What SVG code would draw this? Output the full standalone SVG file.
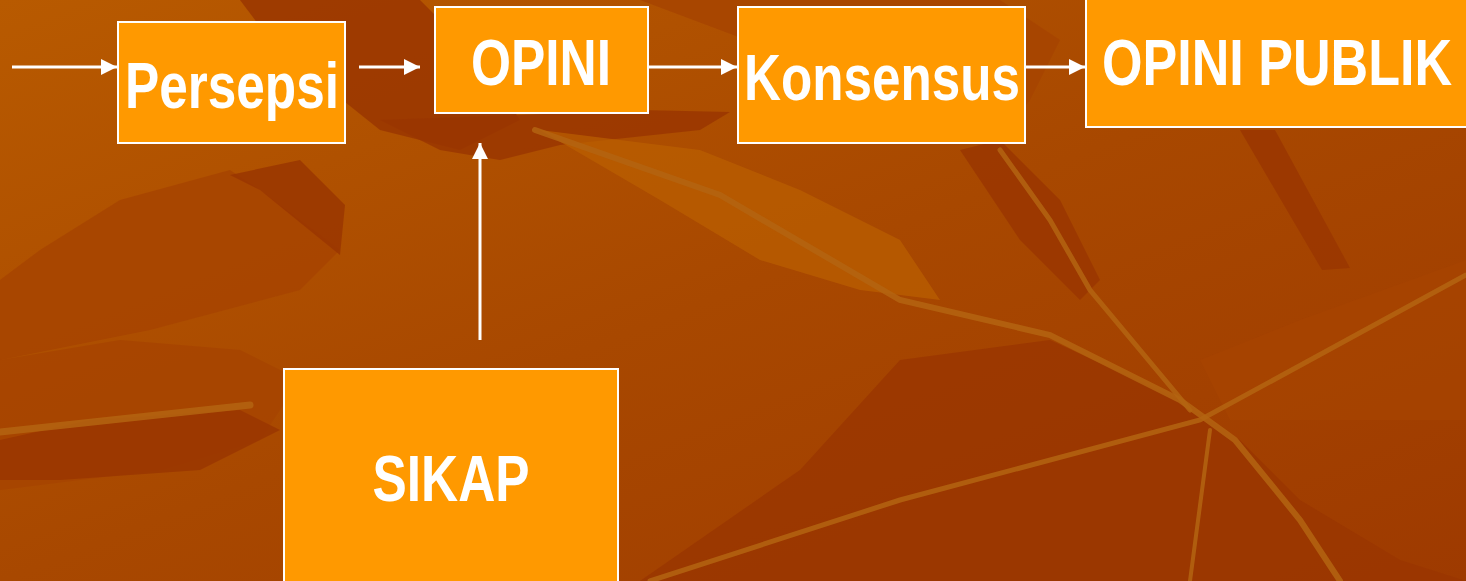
<svg xmlns="http://www.w3.org/2000/svg" width="1466" height="581" viewBox="0 0 1466 581">
  <defs>
    <linearGradient id="bg" x1="0" y1="0" x2="1" y2="1">
      <stop offset="0" stop-color="#B85A00"/>
      <stop offset="0.5" stop-color="#A84800"/>
      <stop offset="1" stop-color="#9E3A00"/>
    </linearGradient>
    <marker id="ah" viewBox="0 0 16 16" refX="16" refY="8" markerWidth="16" markerHeight="16" markerUnits="userSpaceOnUse" orient="auto">
      <path d="M0,0 L16,8 L0,16 Z" fill="#FFFFFF"/>
    </marker>
    <style>
      .box { fill: #FF9900; stroke: #FFFFFF; stroke-width: 2; }
      .lbl { font-family: "Liberation Sans Narrow", "Arial Narrow", "Liberation Sans", Arial, sans-serif; font-weight: bold; font-size: 64px; fill: #FFFFFF; text-anchor: middle; }
      .con { stroke: #FFFFFF; stroke-width: 3; fill: none; marker-end: url(#ah); }
      .dark { fill: #9A3600; opacity: 0.85; }
      .mid { fill: #A64400; opacity: 0.8; }
      .light { fill: #BA6000; opacity: 0.7; }
      .stem { fill: none; stroke: #B46410; stroke-linecap: round; opacity: 0.85; }
    </style>
  </defs>

  <g id="background">
    <rect x="0" y="0" width="1466" height="581" fill="url(#bg)"/>
    <polygon class="mid" points="0,280 40,250 120,200 230,170 260,190 340,250 300,290 150,330 0,360"/>
    <polygon class="dark" points="240,0 420,0 480,60 520,120 460,150 380,130 330,90 270,40"/>
    <polygon class="dark" points="380,120 520,115 640,110 730,112 700,130 560,145 500,160 440,150"/>
    <polygon class="dark" points="230,175 300,160 345,205 340,255 260,190"/>
    <polygon class="mid" points="0,360 120,340 240,350 300,380 260,440 160,470 0,490"/>
    <polygon class="dark" points="0,440 90,420 240,410 280,430 200,470 60,480 0,480"/>
    <polygon class="light" points="540,130 700,150 800,190 900,240 940,300 860,290 760,260 660,200"/>
    <polygon class="mid" points="640,0 1000,0 1060,40 1030,100 990,150 900,110 800,60"/>
    <polygon class="dark" points="1240,130 1275,130 1350,268 1322,270"/>
    <polygon class="dark" points="960,150 1000,140 1060,200 1100,280 1080,300 1020,240"/>
    <polygon class="dark" points="900,360 1050,340 1180,400 1240,440 1300,500 1400,560 1466,581 640,581 800,470"/>
    <polygon class="mid" points="1200,360 1300,320 1466,260 1466,420 1320,420 1230,420"/>
    <path class="stem" stroke-width="6" d="M535,130 L720,195 L900,300 L1050,335 L1180,400 L1235,440 L1300,520 L1340,581"/>
    <path class="stem" stroke-width="5" d="M1000,150 L1050,220 L1090,290 L1140,350 L1190,410"/>
    <path class="stem" stroke-width="7" d="M0,432 L250,405"/>
    <path class="stem" stroke-width="5" d="M650,581 L900,500 L1200,420 L1466,275"/>
    <path class="stem" stroke-width="4" d="M1210,430 L1190,581"/>
  </g>

  <g id="connectors">
    <line class="con" x1="12" y1="67" x2="117" y2="67"/>
    <line class="con" x1="359" y1="67" x2="420" y2="67"/>
    <line class="con" x1="648" y1="67" x2="737" y2="67"/>
    <line class="con" x1="1025" y1="67" x2="1085" y2="67"/>
    <line class="con" x1="480" y1="340" x2="480" y2="143"/>
  </g>

  <g id="persepsi">
    <rect class="box" x="118" y="22" width="227" height="121"/>
    <text class="lbl" x="232" y="108" textLength="214" lengthAdjust="spacingAndGlyphs">Persepsi</text>
  </g>
  <g id="opini">
    <rect class="box" x="435" y="7" width="213" height="106"/>
    <text class="lbl" x="541" y="85" textLength="140" lengthAdjust="spacingAndGlyphs">OPINI</text>
  </g>
  <g id="konsensus">
    <rect class="box" x="738" y="7" width="287" height="136"/>
    <text class="lbl" x="882" y="100" textLength="276" lengthAdjust="spacingAndGlyphs">Konsensus</text>
  </g>
  <g id="opini-publik">
    <rect class="box" x="1086" y="-2" width="382" height="129"/>
    <text class="lbl" x="1277" y="85" textLength="350" lengthAdjust="spacingAndGlyphs">OPINI PUBLIK</text>
  </g>
  <g id="sikap">
    <rect class="box" x="284" y="369" width="334" height="214"/>
    <text class="lbl" x="451" y="501" textLength="157" lengthAdjust="spacingAndGlyphs">SIKAP</text>
  </g>
</svg>
